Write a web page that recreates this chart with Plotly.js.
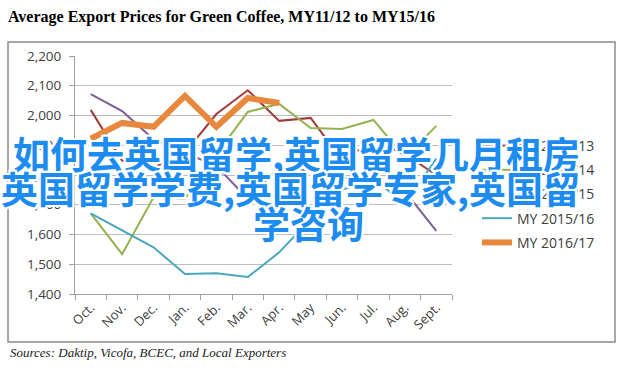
<!DOCTYPE html>
<html>
<head>
<meta charset="utf-8">
<script src="https://cdn.plot.ly/plotly-3.0.1.min.js"></script>
<style>html,body{margin:0;padding:0;background:#fff;}#chart{width:628px;height:372px;}</style>
</head>
<body>
<div id="chart"></div>
<script>
const months = ['Oct.','Nov.','Dec.','Jan.','Feb.','Mar.','Apr.','May','Jun.','Jul.','Aug.','Sept.'];
const seriesNames = ['MY 2012/13','MY 2013/14','MY 2014/15','MY 2015/16','MY 2016/17'];
const my1213 = [2019, 1848, 1825, 1875, 2005, 2085, 1982, 1992, 1850, 1915, 1870, 1800];
const my1314 = [1671, 1534, 1725, 1721, 1870, 2012, 2039, 1958, 1955, 1985, 1858, 1965];
const my1415 = [2072, 2015, 1920, 1875, 1830, 1720, 1828, 1815, 1790, 1790, 1745, 1612];
const my1516 = [1671, 1614, 1557, 1467, 1470, 1457, 1540, 1652, 1750, 1790, 1700, 1855];
const my1617 = [1922, 1975, 1962, 2066, 1962, 2059, 2042];
const yTicks = [1400, 1500, 1600, 1700, 1800, 1900, 2000, 2100, 2200];
const yTickText = ['1,400','1,500','1,600','1,700','1,800','1,900','2,000','2,100','2,200'];
const titleText = 'Average Export Prices for Green Coffee, MY11/12 to MY15/16';
const sourceText = 'Sources: Daktip, Vicofa, BCEC, and Local Exporters';
const overlayLines = ['如何去英国留学,英国留学几月租房', '英国留学学费,英国留学专家,英国留', '学咨询'];

const colors = ['#a23a3c', '#93b250', '#7b5e93', '#4aa6be', '#e8883c'];
const widths = [2, 2, 2, 2, 6];
const allSeries = [my1213, my1314, my1415, my1516, my1617];

const traces = allSeries.map((vals, i) => ({
  type: 'scatter', mode: 'lines',
  x: months.slice(0, vals.length), y: vals,
  name: seriesNames[i], legendgroup: 'g' + i,
  line: {color: colors[i], width: widths[i]},
  hoverinfo: 'skip'
}));

// plot area in pixels
const L = 75, R = 452, T = 56, B = 294;
const W = R - L, H = B - T;
const px = x => (x - L) / W;
const py = y => (B - y) / H;

const shadow = '2px 2px 0 #fff, -2px -2px 0 #fff, 2px -2px 0 #fff, -2px 2px 0 #fff, 0 2px 0 #fff, 0 -2px 0 #fff, 2px 0 0 #fff, -2px 0 0 #fff';
const wmFont = {family: 'Noto Sans CJK SC', size: 37, color: '#1c8cf0', weight: 700, shadow: shadow};

const layout = {
  width: 628, height: 372,
  margin: {l: L, r: 628 - R, t: T, b: 372 - B, pad: 0},
  paper_bgcolor: '#fff', plot_bgcolor: '#fff',
  showlegend: true,
  title: {
    text: '<b>' + titleText + '</b>',
    font: {family: 'Liberation Serif', size: 16, color: '#000'},
    x: 8 / 628, xanchor: 'left', xref: 'container',
    y: 1 - 16 / 372, yanchor: 'middle', yref: 'container'
  },
  xaxis: {
    type: 'category', categoryarray: months, range: [-0.5, 11.5],
    tickangle: -45, ticks: 'outside', tickson: 'boundaries', ticklen: 5,
    tickcolor: '#a0a0a0', showline: true, linecolor: '#a0a0a0', linewidth: 1,
    showgrid: false, zeroline: false,
    tickfont: {family: 'Open Sans', size: 13, color: '#404040'}
  },
  yaxis: {
    range: [1400, 2200], tickvals: yTicks, ticktext: yTickText,
    ticks: 'outside', ticklen: 5, tickcolor: '#a0a0a0', ticklabelstandoff: 5,
    showline: true, linecolor: '#a0a0a0', linewidth: 1,
    showgrid: true, gridcolor: '#bcbcbc', gridwidth: 1, zeroline: false,
    tickfont: {family: 'Open Sans', size: 13.5, color: '#404040'}
  },
  legend: {
    x: px(477), xanchor: 'left', y: py(130), yanchor: 'top',
    traceorder: 'grouped', tracegroupgap: 3,
    font: {family: 'Open Sans', size: 14, color: '#404040'},
    bgcolor: 'rgba(0,0,0,0)'
  },
  shapes: [{
    type: 'rect', xref: 'paper', yref: 'paper', layer: 'below',
    x0: px(8), x1: px(615), y0: py(342), y1: py(42),
    line: {color: '#8a8a8a', width: 1.5}
  }],
  annotations: [
    {
      text: '<i>' + sourceText + '</i>', xref: 'paper', yref: 'paper',
      x: px(8), y: py(352), xanchor: 'left', yanchor: 'middle', showarrow: false,
      font: {family: 'Liberation Serif', size: 13, color: '#222'}
    },
    {
      text: overlayLines[0], xref: 'paper', yref: 'paper',
      x: px(296), y: py(153), xanchor: 'center', yanchor: 'middle', showarrow: false,
      font: wmFont
    },
    {
      text: overlayLines[1], xref: 'paper', yref: 'paper',
      x: px(290), y: py(188), xanchor: 'center', yanchor: 'middle', showarrow: false,
      font: wmFont
    },
    {
      text: overlayLines[2], xref: 'paper', yref: 'paper',
      x: px(308), y: py(223), xanchor: 'center', yanchor: 'middle', showarrow: false,
      font: wmFont
    }
  ]
};

Plotly.newPlot('chart', traces, layout, {displayModeBar: false, staticPlot: true});
</script>
</body>
</html>
